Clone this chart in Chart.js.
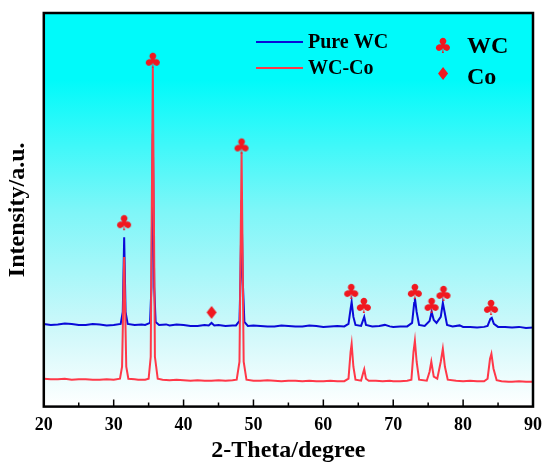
<!DOCTYPE html>
<html><head><meta charset="utf-8">
<script src="https://cdn.jsdelivr.net/npm/chart.js@4.4.0/dist/chart.umd.min.js"></script>
<style>html,body{margin:0;padding:0;background:#fff;}#wrap{width:550px;height:468px;position:relative;}</style>
</head><body><div id="wrap"><canvas id="c"></canvas></div>
<script>
// ---- data (intensity in arbitrary units) ----
const pureWC_x = [20,21,22,23,24,25,26,27,28,29,30,31.0,31.3,31.5,31.7,32.0,33,34,34.5,35.2,35.4,35.6,35.8,36.0,36.5,37.5,38,39,40,41,42,43,43.6,44.0,44.4,45,46,47,47.5,48.0,48.15,48.3,48.45,48.7,49.2,50,51,52,53,54,55,56,57,58,59,60,61,62,63,63.6,63.9,64.05,64.3,64.6,65.4,65.7,65.85,66.1,67,68,68.8,69.5,70,71,72,72.7,73.0,73.1,73.35,73.7,74.5,75.2,75.5,75.8,76.2,76.8,77.1,77.35,77.7,78.5,79.5,80,81,82,83,83.5,83.9,84.1,84.4,85,86,87,88,89,90];
const pureWC_y = [83,82,82.5,83.5,83,82,82,83,82.5,81.5,82,83,95,170,95,83,82,82.5,82,84,120,274,120,85,82,82.5,81.5,82.5,82,81,81,82,81.5,84,81.5,82,81,81.5,81.5,86,130,207,130,85,81,81.5,81,80.5,80.5,81.5,81,80.5,80.5,81.5,81,80,80.5,81,80.5,83,98,105,90,82,81,87,90,82,80.5,81,82,80.5,80,80.5,80.5,84,104,109,95,82,81,86,95,87,84,90,104,95,82,80.5,81.5,80,80,79.5,80,81,88,89,83,80,80,79.5,80,79,79.5];
const wcCo_x = [20,21,22,23,24,25,26,27,28,29,30,30.9,31.2,31.5,31.8,32.1,33,33.5,34.5,35.0,35.3,35.6,35.9,36.3,37,38,39,40,41,42,43,44,45,46,47,47.6,48.0,48.3,48.6,49.0,50,51,52,53,54,55,56,57,58,59,60,61,62,63,63.6,63.9,64.05,64.3,64.6,65.4,65.7,65.85,66.1,66.5,67.5,68.5,69.5,70,71,72,72.6,72.9,73.1,73.35,73.7,74.8,75.2,75.45,75.8,76.3,76.8,77.1,77.4,77.8,79,80,81,82,83,83.5,83.85,84.05,84.35,84.8,85.5,86.5,87,88,89,90];
const wcCo_y = [28,27.5,27.5,28,27,27.5,27.5,27,27,27.5,27,28,40,150,40,28,27.5,27,27,28,50,340,50,28,27,26.5,27,26.5,26,26.5,26,26,26.5,26,26.5,27,45,255,45,27,26,26,26.5,26,25.5,26,26,25.5,26,25.5,25.5,26,25.5,25.5,28,55,63,40,27,26,34,37.5,28,26,26,25.5,26,25.5,25.5,26,27,55,66,45,27,26,35,45,30,28,45,58,40,27,26,25.5,26,25.5,25.5,28,48,53,38,26.5,25.5,25,25,25.5,25,25];
const wcMark_x = [31.5,35.6,48.3,64.0,65.8,73.1,75.5,77.2,84.0];
const wcMark_y = [183,346,260,114,100,114,100,112,98];
const coMark_x = [44.0];
const coMark_y = [94];
const xMajorTicks = [20,30,40,50,60,70,80,90];
const xMinorTicks = [25,35,45,55,65,75,85];
const seriesNames = ['Pure WC','WC-Co'];
const phaseNames = ['WC','Co'];

const SERIF = '"Liberation Serif","Times New Roman",serif';
const BLUE = '#0a0ad8';
const RED = '#ff3848';
const MARK = '#f01820';

function glyphCanvas(ch, size, fsize){
  const c = document.createElement('canvas');
  c.width = size; c.height = size;
  const g = c.getContext('2d');
  g.fillStyle = MARK;
  g.font = fsize + 'px "DejaVu Sans"';
  g.textAlign = 'center'; g.textBaseline = 'middle';
  g.fillText(ch, size/2, size/2 + 1);
  return c;
}
const clubImg = glyphCanvas('\u2663', 24, 21);
const diamondImg = glyphCanvas('\u2666', 22, 18);

const zip = (xs, ys) => xs.map((x,i)=>({x:x, y:ys[i]}));

const decor = {
  id: 'decor',
  beforeDatasetsDraw(chart){
    const {ctx, chartArea:a} = chart;
    const g = ctx.createLinearGradient(0, a.top, 0, a.bottom);
    g.addColorStop(0, 'rgb(0,250,250)');
    g.addColorStop(0.17, 'rgb(0,250,250)');
    g.addColorStop(0.5, 'rgb(125,246,248)');
    g.addColorStop(0.8, 'rgb(205,248,250)');
    g.addColorStop(1, 'rgb(255,255,255)');
    ctx.save();
    ctx.fillStyle = g;
    ctx.fillRect(a.left, a.top, a.right-a.left, a.bottom-a.top);
    ctx.restore();
  },
  afterDraw(chart){
    const {ctx, chartArea:a} = chart;
    const xs = chart.scales.x;
    ctx.save();
    ctx.strokeStyle = '#000';
    ctx.lineWidth = 1.5;
    ctx.beginPath();
    xMajorTicks.forEach(v=>{ const px = xs.getPixelForValue(v); ctx.moveTo(px, a.bottom); ctx.lineTo(px, a.bottom-7); });
    xMinorTicks.forEach(v=>{ const px = xs.getPixelForValue(v); ctx.moveTo(px, a.bottom); ctx.lineTo(px, a.bottom-4); });
    ctx.stroke();
    ctx.lineWidth = 2.5;
    ctx.strokeRect(a.left, a.top, a.right-a.left, a.bottom-a.top);
    // legend
    ctx.lineWidth = 2;
    ctx.strokeStyle = BLUE;
    ctx.beginPath(); ctx.moveTo(256, 42); ctx.lineTo(303, 42); ctx.stroke();
    ctx.strokeStyle = RED;
    ctx.beginPath(); ctx.moveTo(256, 68); ctx.lineTo(303, 68); ctx.stroke();
    ctx.fillStyle = '#000';
    ctx.font = 'bold 20px ' + SERIF;
    ctx.textAlign = 'left'; ctx.textBaseline = 'middle';
    ctx.fillText(seriesNames[0], 308, 43);
    ctx.fillText(seriesNames[1], 308, 69);
    ctx.font = 'bold 24px ' + SERIF;
    ctx.fillText(phaseNames[0], 467, 47);
    ctx.fillText(phaseNames[1], 467, 78);
    ctx.drawImage(clubImg, 443-12, 47-12);
    ctx.drawImage(diamondImg, 443-11, 74-11);
    ctx.restore();
  }
};

new Chart(document.getElementById('c'), {
  data: {
    datasets: [
      { type:'scatter', label:phaseNames[0], data: zip(wcMark_x, wcMark_y), pointStyle: clubImg, pointRadius: 12, order: 0 },
      { type:'scatter', label:phaseNames[1], data: zip(coMark_x, coMark_y), pointStyle: diamondImg, pointRadius: 11, order: 0 },
      { type:'line', label:seriesNames[1], data: zip(wcCo_x, wcCo_y), borderColor: RED, borderWidth: 2, pointRadius: 0, tension: 0, order: 1 },
      { type:'line', label:seriesNames[0], data: zip(pureWC_x, pureWC_y), borderColor: BLUE, borderWidth: 2, pointRadius: 0, tension: 0, order: 2 }
    ]
  },
  options: {
    responsive: true, maintainAspectRatio: false, animation: false,
    layout: { padding: { top: 12, right: 15, left: 3, bottom: 3 } },
    plugins: { legend: { display: false }, tooltip: { enabled: false } },
    scales: {
      x: {
        type: 'linear', min: 20, max: 90,
        afterBuildTicks: s => { s.ticks = xMajorTicks.map(v=>({value:v})); },
        grid: { display: false, drawTicks: false },
        border: { display: false },
        ticks: { color: '#000', padding: 8, maxRotation: 0, font: { family: SERIF, size: 18, weight: 'bold' } },
        title: { display: true, text: '2-Theta/degree', color: '#000', padding: { top: -8, bottom: 0 }, font: { family: SERIF, size: 24, weight: 'bold', lineHeight: 1.2 } }
      },
      y: {
        type: 'linear', min: 0, max: 395,
        grid: { display: false, drawTicks: false },
        border: { display: false },
        ticks: { display: false },
        title: { display: true, text: 'Intensity/a.u.', color: '#000', padding: { top: 0, bottom: 12 }, font: { family: SERIF, size: 24, weight: 'bold', lineHeight: 1.2 } }
      }
    }
  },
  plugins: [decor]
});
</script>
</body></html>
